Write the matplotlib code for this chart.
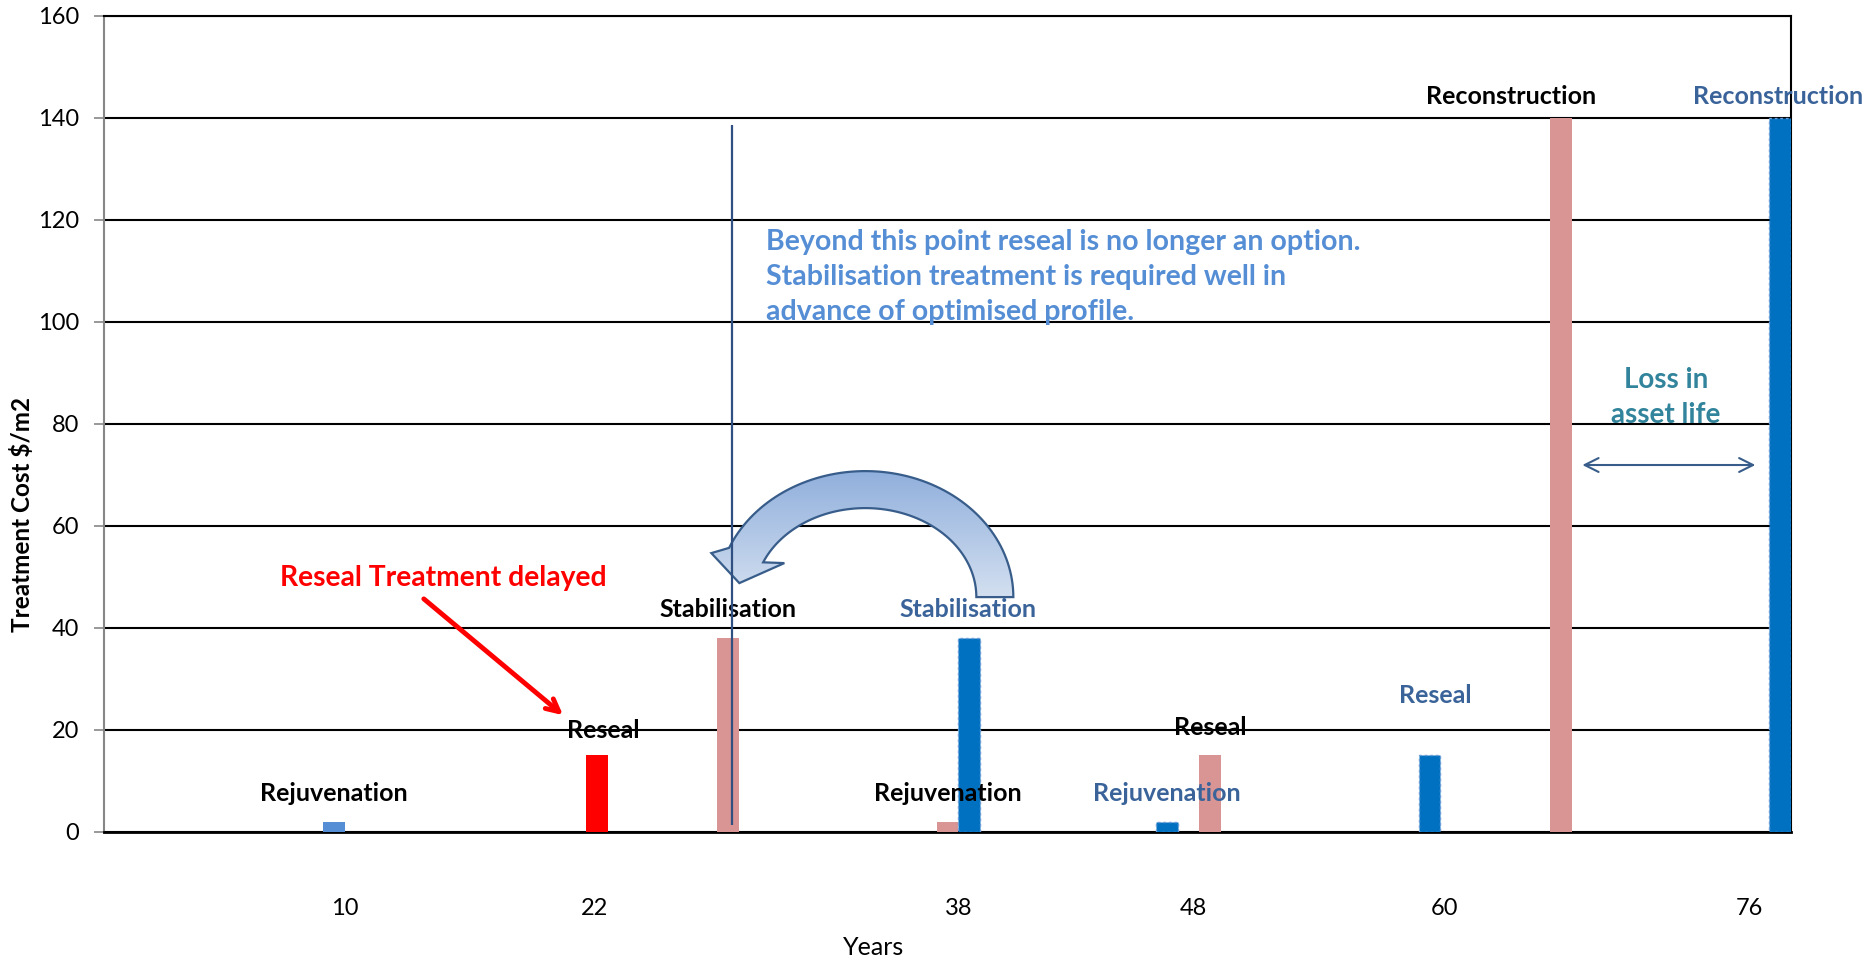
import numpy as np
import matplotlib
matplotlib.use("Agg")
import matplotlib.pyplot as plt
from matplotlib.patches import Polygon
from matplotlib.transforms import Affine2D, ScaledTranslation
from matplotlib.colors import LinearSegmentedColormap

plt.rcParams['font.family'] = ['Lato', 'DejaVu Sans']

# first treatment, common to both profiles
years_common = [10]
cost_common = [2]
labels_common = ["Rejuvenation"]

# delayed reseal
years_reseal = [22]
cost_reseal = [15]
labels_reseal = ["Reseal"]

# delayed profile
years_delay = [28, 38, 50, 66]
cost_delay = [38, 2, 15, 140]
labels_delay = ["Stabilisation", "Rejuvenation", "Reseal", "Reconstruction"]

# optimised profile
years_opt = [39, 48, 60, 76]
cost_opt = [38, 2, 15, 140]
labels_opt = ["Stabilisation", "Rejuvenation", "Reseal", "Reconstruction"]

tick_labels = ["10", "22", "38", "48", "60", "76"]
tick_pos = [10.5, 21.9, 38.5, 49.2, 60.7, 74.6]

PINK = "#D99594"
BLUE = "#0070C0"
LBLUE = "#558ED5"
TXTBLUE = "#3A639A"

fig = plt.figure(figsize=(18.68, 9.6), dpi=100)
ax = fig.add_axes([104/1868, 1-831.7/960, 1687/1868, 816/960])

ax.bar(years_common, cost_common, width=1.0, color=LBLUE, zorder=3)
ax.bar(years_reseal, cost_reseal, width=1.0, color="#FF0000", zorder=3)
ax.bar(years_delay, cost_delay, width=1.0, color=PINK, zorder=3)
ax.bar(years_opt, cost_opt, width=1.0, color=BLUE, edgecolor="#6A9BD8",
       linestyle=(0, (2, 2)), linewidth=1, zorder=3)

ax.set_xlim(-0.5, 76.5)
ax.set_ylim(0, 160)
ax.set_yticks(np.arange(0, 161, 20))
ax.set_xticks(tick_pos)
ax.set_xticklabels(tick_labels)
ax.tick_params(axis='x', length=0, pad=48, labelsize=17)
ax.tick_params(axis='y', length=7, width=1.2, color="#868686", pad=11, labelsize=17)

ax.yaxis.grid(True, color='black', linewidth=1.5)
ax.set_axisbelow(True)
for s in ['top', 'right']:
    ax.spines[s].set_color('black')
    ax.spines[s].set_linewidth(1.5)
ax.spines['left'].set_color("#868686")
ax.spines['left'].set_linewidth(1.5)
ax.spines['bottom'].set_color('black')
ax.spines['bottom'].set_linewidth(2)

ax.set_ylabel("Treatment Cost $/m2", fontsize=17.5, fontweight='bold')
ax.yaxis.set_label_coords(-0.0488, 0.389)
ax.yaxis.label.set_va('center')
ax.set_xlabel("Years", fontsize=18)
ax.xaxis.set_label_coords(0.456, -0.1413)
ax.xaxis.label.set_va('center')


def put_labels(xs, ys, texts, color, offsets):
    for x, y, t, (dx, dy) in zip(xs, ys, texts, offsets):
        ax.annotate(t, xy=(x, y), xytext=(dx, dy), textcoords='offset pixels',
                    ha='center', va='center', fontsize=18, fontweight='bold',
                    color=color, zorder=5)


put_labels(years_common, cost_common, labels_common, 'black', [(0, 28)])
put_labels(years_reseal, cost_reseal, labels_reseal, 'black', [(6, 25)])
put_labels(years_delay, cost_delay, labels_delay, 'black',
           [(0, 28), (0, 28), (0, 28), (-50, 21)])
put_labels(years_opt, cost_opt, labels_opt, TXTBLUE,
           [(-1, 28), (0, 28), (6, 60), (-2, 21)])

# delayed reseal note
ax.text(15.0, 49.7, "Reseal Treatment delayed", color='#FF0000', fontsize=20.3,
        fontweight='bold', ha='center', va='center')
ax.annotate("", xy=(20.55, 22.5), xytext=(14.0, 46.0),
            arrowprops=dict(arrowstyle='->,head_length=0.9,head_width=0.45',
                            color='#FF0000', lw=3.5))

# limit line for reseal
ax.vlines(28.15, 1.3, 138.6, color="#2F5080", linewidth=1.6, zorder=7)
ax.text(29.7, 108.8, "Beyond this point reseal is no longer an option.\n"
        "Stabilisation treatment is required well in\n"
        "advance of optimised profile.",
        color=LBLUE, fontsize=20.5, fontweight='bold', ha='left', va='center',
        linespacing=1.43)

# loss in asset life
ax.text(70.8, 85.1, "Loss in\nasset life", color="#31849B", fontsize=20,
        fontweight='bold', ha='center', va='center', linespacing=1.4)
ax.annotate("", xy=(75.0, 71.9), xytext=(66.85, 71.9),
            arrowprops=dict(arrowstyle='<->,head_length=1.0,head_width=0.5',
                            color="#385D8A", lw=1.5))

# curved arrow (optimised stabilisation -> earlier)
off = Affine2D() + ScaledTranslation(34.25, 46.0, ax.transData)
th = np.radians(np.linspace(0, 157, 80))
outer = np.c_[148*np.cos(th), 126*np.sin(th)]
inner = np.c_[111*np.cos(th), 89*np.sin(th)][::-1]
head = np.array([(-154, 44), (-126, 14), (-81, 34)])
verts = np.vstack([outer, head, inner])
arrow = Polygon(verts, closed=True, transform=off, facecolor='none',
                edgecolor="#385D8A", linewidth=1.6, zorder=6)
ax.add_patch(arrow)
grad = np.linspace(0, 1, 100).reshape(-1, 1)
cmap = LinearSegmentedColormap.from_list("g", ["#DDE7F3", "#8FAEDC"])
im = ax.imshow(grad, extent=(-170, 170, -20, 130), origin='lower', cmap=cmap,
               aspect='auto', zorder=5)
im.set_transform(off)
im.set_clip_path(arrow)

ax.set_xlim(-0.5, 76.5)
ax.set_ylim(0, 160)

fig.savefig("out.png", dpi=100)
